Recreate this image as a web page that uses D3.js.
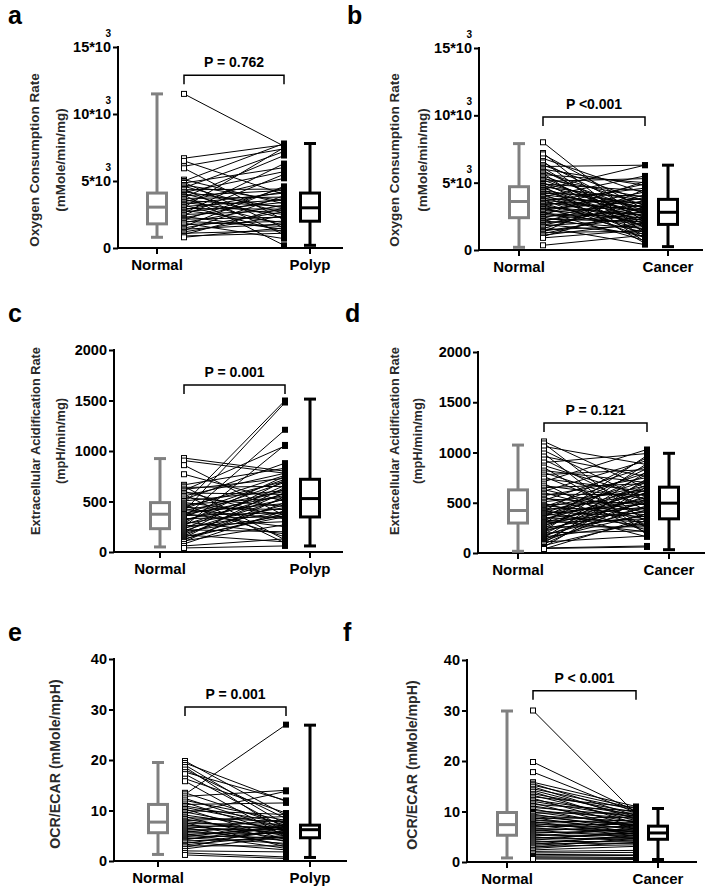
<!DOCTYPE html>
<html><head><meta charset="utf-8">
<script src="https://cdn.jsdelivr.net/npm/d3@7"></script>
<style>
body{margin:0;background:#fff}
svg{display:block}
text{font-family:Arial,"Liberation Sans",Helvetica,sans-serif}
</style>
</head><body>
<svg id="chart" width="711" height="887"></svg>
<script>
// ---------------- DATA ----------------
const panelLetters = ["a", "b", "c", "d", "e", "f"];
const polypCategories = ["Normal", "Polyp"];
const cancerCategories = ["Normal", "Cancer"];
const pLabels = ["P = 0.762", "P <0.001", "P = 0.001", "P = 0.121", "P = 0.001", "P < 0.001"];
const ocrTitle = ["Oxygen Consumption Rate", "(mMole/min/mg)"];
const ecarTitle = ["Extracellular Acidification Rate", "(mpH/min/mg)"];
const ratioTitle = ["OCR/ECAR (mMole/mpH)"];
const ocrTicks = [0, 5000, 10000, 15000];
const ecarTicks = [0, 500, 1000, 1500, 2000];
const ratioTicks = [0, 10, 20, 30, 40];

// box stats: [min, q1, median, q3, max]
const ocrPolypBoxNormal = [800, 1800, 3050, 4100, 11500];
const ocrPolypBoxPolyp = [200, 2000, 3000, 4100, 7800];
const ocrCancerBoxNormal = [200, 2400, 3600, 4700, 7900];
const ocrCancerBoxCancer = [250, 1900, 2800, 3760, 6300];
const ecarPolypBoxNormal = [50, 231, 374, 489, 925];
const ecarPolypBoxPolyp = [60, 347, 529, 720, 1514];
const ecarCancerBoxNormal = [17, 298, 423, 628, 1074];
const ecarCancerBoxCancer = [33, 340, 496, 655, 992];
const ratioPolypBoxNormal = [1.3, 5.6, 7.7, 11.2, 19.5];
const ratioPolypBoxPolyp = [0.7, 4.6, 6.2, 7.1, 26.9];
const ratioCancerBoxNormal = [0.8, 5.3, 7.4, 9.8, 29.9];
const ratioCancerBoxCancer = [0.5, 4.5, 5.75, 7.1, 10.6];

// paired values (same index = same patient)
const ocrPolypNormal = [11500,6700,6500,6100,5950,5100,5000,4900,4850,4700,4600,4500,4400,4350,4200,4150,4050,3950,3900,3800,3700,3650,3550,3450,3400,3300,3200,3100,3050,2950,2850,2800,2700,2600,2500,2450,2350,2250,2150,2100,2000,1900,1850,1750,1600,1500,1400,1300,1200,1100,1000,900,800];
const ocrPolypPolyp  = [7600,7700,4000,7400,2100,3300,7800,1500,6000,3500,2600,7200,1000,4400,3000,5700,2200,200,4300,6900,3800,1700,3100,5200,2500,4100,1200,3600,7500,2900,4200,1900,3400,6300,2800,5500,1400,3700,2300,4500,1600,3200,700,2000,4600,2700,1800,3900,2400,1300,3000,1100,1500];

const ocrCancerNormal = [8000,7200,7100,6800,6600,6500,6300,6200,6100,6000,5900,5800,5700,5600,5500,5400,5300,5200,5100,5000,4950,4900,4800,4750,4700,4600,4500,4450,4400,4300,4200,4150,4100,4000,3950,3900,3800,3750,3700,3650,3600,3500,3450,3400,3300,3250,3200,3100,3050,3000,2900,2850,2800,2700,2650,2600,2500,2450,2400,2300,2200,2150,2100,2000,1900,1850,1800,1700,1600,1500,1400,1350,1300,1200,1100,1000,900,350];
const ocrCancerCancer = [2000,1200,3000,4200,800,2600,3600,6300,1600,4800,2200,3300,600,5000,2900,1900,3900,2400,5300,1400,3100,4400,2700,500,3700,2100,6300,1700,3400,2800,4000,1100,3200,2500,5500,1800,3500,900,2900,4600,2300,3000,1500,3800,2000,4900,2600,1300,3600,2200,4300,700,3300,2400,1900,5100,2800,1000,3900,2100,3100,1600,4100,2700,1200,3400,2300,400,3700,1800,2500,4500,1400,2900,2000,3200,1500,1100];

const ecarPolypNormal = [930,905,860,770,665,650,640,620,610,600,585,570,555,540,520,505,490,480,470,460,450,440,430,420,410,400,390,380,375,370,360,350,340,330,320,310,300,290,280,270,260,250,240,230,220,210,200,190,180,170,160,150,140,130,120,110,100,80,60,40];
const ecarPolypPolyp  = [800,780,360,500,830,120,650,730,1050,340,570,90,780,450,880,610,370,1500,540,150,700,420,760,330,600,1480,480,250,720,560,390,690,1210,350,520,620,180,750,440,580,300,1060,400,660,200,530,360,710,470,100,590,350,640,380,490,270,550,410,130,60];

const ecarCancerNormal = [1110,1090,1060,1020,990,960,930,900,870,850,820,800,780,760,740,710,690,670,650,630,615,600,585,570,555,540,525,510,495,480,470,460,450,440,430,425,420,410,400,395,390,380,370,360,350,345,340,330,320,310,305,300,290,280,270,260,250,240,230,220,210,200,190,180,170,160,150,140,130,120,110,100,90,75,60,50,45,40];
const ecarCancerCancer = [640,300,880,520,180,760,420,990,560,250,700,470,830,350,610,1030,200,540,690,400,920,330,580,750,280,480,860,620,230,510,380,800,670,440,160,590,950,360,720,490,270,650,530,840,310,460,600,210,780,410,550,340,970,500,630,260,710,450,370,890,570,220,680,430,520,290,810,390,610,470,170,740,540,320,660,70,60,350];

const ratioPolypNormal = [19.8,19.4,19.0,18.6,18.1,17.6,17.2,16.3,15.8,13.5,13.2,12.8,12.4,12.0,11.6,11.2,10.9,10.6,10.3,10.0,9.7,9.4,9.1,8.8,8.6,8.3,8.0,7.8,7.6,7.4,7.2,7.0,6.8,6.6,6.4,6.2,6.0,5.8,5.6,5.4,5.2,5.0,4.8,4.6,4.4,4.2,4.0,3.8,3.5,3.2,3.0,2.7,2.4,2.0,1.6,1.2];
const ratioPolypPolyp  = [9.0,11.8,7.2,5.5,8.4,12.0,6.5,9.5,4.8,7.0,27.0,14.0,6.0,8.0,5.2,11.5,7.5,6.8,4.2,9.2,5.9,13.8,6.3,3.8,7.8,5.0,8.8,6.1,2.8,7.3,4.5,6.6,5.6,3.2,8.2,6.2,4.0,7.1,5.4,2.5,6.4,4.6,7.0,3.5,5.8,6.9,4.4,2.2,6.0,5.1,3.0,6.7,4.9,1.8,0.8,0.5];

const ratioCancerNormal = [30.0,19.8,17.8,15.8,15.5,15.2,14.9,14.5,14.2,13.9,13.5,13.2,12.9,12.6,12.3,12.0,11.7,11.4,11.1,10.8,10.5,10.2,9.9,9.7,9.5,9.2,9.0,8.8,8.6,8.4,8.2,8.0,7.8,7.6,7.5,7.3,7.1,6.9,6.7,6.5,6.3,6.1,5.9,5.7,5.5,5.3,5.1,4.9,4.7,4.5,4.3,4.1,3.9,3.7,3.5,3.3,3.1,2.9,2.7,2.4,2.1,1.8,1.5,1.2,1.0,0.8,0.6];
const ratioCancerCancer = [9.5,10.0,9.8,11.0,9.2,10.6,8.5,10.3,9.0,7.6,9.8,8.2,10.8,7.0,9.4,8.8,6.5,10.1,7.9,9.1,6.8,8.6,7.3,9.7,6.2,8.0,7.1,5.8,8.9,6.6,7.7,5.5,8.3,6.0,7.4,5.2,6.9,7.8,5.9,6.3,4.9,7.2,5.6,6.4,4.6,5.3,6.7,4.3,5.7,4.8,6.1,4.0,5.0,3.7,5.4,4.4,3.4,4.7,3.9,3.1,2.3,1.9,1.4,1.3,0.9,0.7,0.5];

// ---------------- LAYOUT ----------------
const panels = [
  {letter: panelLetters[0], lx: 8,   ly: 24,  ax: 118, yTop: 47,  yBot: 248, xEnd: 343, nX: 157, oX: 310, l0: 184, l1: 284,
   domain: [0, 15000], ticks: ocrTicks, sup: true, title: ocrTitle, tX: [39, 65], tY: 160, tSize: 13.5,
   cats: polypCategories, normal: ocrPolypNormal, other: ocrPolypPolyp, boxN: ocrPolypBoxNormal, boxO: ocrPolypBoxPolyp,
   p: pLabels[0], brV: 12900},
  {letter: panelLetters[1], lx: 347, ly: 24, ax: 479, yTop: 48, yBot: 250, xEnd: 703, nX: 519, oX: 668, l0: 543, l1: 645,
   domain: [0, 15000], ticks: ocrTicks, sup: true, title: ocrTitle, tX: [399, 427], tY: 160, tSize: 13.5,
   cats: cancerCategories, normal: ocrCancerNormal, other: ocrCancerCancer, boxN: ocrCancerBoxNormal, boxO: ocrCancerBoxCancer,
   p: pLabels[1], brV: 9870},
  {letter: panelLetters[2], lx: 8, ly: 322, ax: 114, yTop: 350, yBot: 552, xEnd: 343, nX: 160, oX: 310, l0: 184, l1: 285,
   domain: [0, 2000], ticks: ecarTicks, sup: false, title: ecarTitle, tX: [40, 65], tY: 441, tSize: 12.8,
   cats: polypCategories, normal: ecarPolypNormal, other: ecarPolypPolyp, boxN: ecarPolypBoxNormal, boxO: ecarPolypBoxPolyp,
   p: pLabels[2], brV: 1653},
  {letter: panelLetters[3], lx: 345, ly: 322, ax: 478, yTop: 352, yBot: 553, xEnd: 705, nX: 518, oX: 669, l0: 544, l1: 647,
   domain: [0, 2000], ticks: ecarTicks, sup: false, title: ecarTitle, tX: [399, 422], tY: 441, tSize: 12.8,
   cats: cancerCategories, normal: ecarCancerNormal, other: ecarCancerCancer, boxN: ecarCancerBoxNormal, boxO: ecarCancerBoxCancer,
   p: pLabels[3], brV: 1293},
  {letter: panelLetters[4], lx: 8, ly: 641, ax: 114, yTop: 659, yBot: 861, xEnd: 347, nX: 158, oX: 310, l0: 185, l1: 286,
   domain: [0, 40], ticks: ratioTicks, sup: false, title: ratioTitle, tX: [60], tY: 764, tSize: 14.2,
   cats: polypCategories, normal: ratioPolypNormal, other: ratioPolypPolyp, boxN: ratioPolypBoxNormal, boxO: ratioPolypBoxPolyp,
   p: pLabels[4], brV: 30.5},
  {letter: panelLetters[5], lx: 343, ly: 641, ax: 467, yTop: 660, yBot: 862, xEnd: 697, nX: 507, oX: 658, l0: 533, l1: 636,
   domain: [0, 40], ticks: ratioTicks, sup: false, title: ratioTitle, tX: [417], tY: 765, tSize: 14.2,
   cats: cancerCategories, normal: ratioCancerNormal, other: ratioCancerCancer, boxN: ratioCancerBoxNormal, boxO: ratioCancerBoxCancer,
   p: pLabels[5], brV: 33.9}
];

const svg = d3.select("#chart");
const GRAY = "#808080";
const FONT = "Arial, 'Liberation Sans', sans-serif";

function drawBox(g, cx, s, y, color) {
  const bw = 19, cw = 12;
  const bg = g.append("g").attr("stroke", color).attr("stroke-width", 3).attr("fill", "none");
  bg.append("line").attr("x1", cx).attr("x2", cx).attr("y1", y(s[0])).attr("y2", y(s[1]));
  bg.append("line").attr("x1", cx).attr("x2", cx).attr("y1", y(s[3])).attr("y2", y(s[4]));
  bg.append("line").attr("x1", cx - cw / 2).attr("x2", cx + cw / 2).attr("y1", y(s[0])).attr("y2", y(s[0]));
  bg.append("line").attr("x1", cx - cw / 2).attr("x2", cx + cw / 2).attr("y1", y(s[4])).attr("y2", y(s[4]));
  bg.append("rect").attr("x", cx - bw / 2).attr("width", bw)
    .attr("y", y(s[3])).attr("height", y(s[1]) - y(s[3])).attr("fill", "#fff");
  bg.append("line").attr("x1", cx - bw / 2).attr("x2", cx + bw / 2).attr("y1", y(s[2])).attr("y2", y(s[2]));
}

panels.forEach(P => {
  const g = svg.append("g");
  const y = d3.scaleLinear().domain(P.domain).range([P.yBot, P.yTop]);
  const x = d3.scaleLinear().domain([0, 1]).range([P.nX, P.oX]);
  const t0 = (P.l0 - P.nX) / (P.oX - P.nX), t1 = (P.l1 - P.nX) / (P.oX - P.nX);

  // panel letter
  g.append("text").attr("x", P.lx).attr("y", P.ly).attr("font-size", 25).attr("font-weight", "bold").text(P.letter);

  // y axis
  const fmt = d => P.sup ? (d === 0 ? "0" : (d / 1000) + "*10") : String(d);
  const yAxis = d3.axisLeft(y).tickValues(P.ticks).tickFormat(fmt).tickSize(5).tickPadding(2).tickSizeOuter(0);
  const ya = g.append("g").attr("transform", `translate(${P.ax},0)`).call(yAxis);
  ya.select(".domain").attr("stroke-width", 2).attr("d", `M0,${P.yTop - 1}V${P.yBot + 1}`);
  ya.selectAll(".tick line").attr("stroke-width", 2);
  ya.selectAll(".tick text").attr("font-size", 14.5).attr("font-weight", "bold").attr("font-family", FONT).attr("fill", "#000");
  if (P.sup) {
    ya.selectAll(".tick").filter(d => d > 0).append("text")
      .attr("x", -7).attr("y", -10.5).attr("text-anchor", "end")
      .attr("font-size", 10).attr("font-weight", "bold").attr("fill", "#000")
      .attr("font-family", FONT).text("3");
  }

  // x axis
  g.append("line").attr("x1", P.ax - 1).attr("x2", P.xEnd).attr("y1", P.yBot).attr("y2", P.yBot)
    .attr("stroke", "#000").attr("stroke-width", 2);
  [0, 1].forEach((v, i) => {
    g.append("line").attr("x1", x(v)).attr("x2", x(v)).attr("y1", P.yBot).attr("y2", P.yBot + 6)
      .attr("stroke", "#000").attr("stroke-width", 2);
    g.append("text").attr("x", x(v)).attr("y", P.yBot + 22).attr("text-anchor", "middle")
      .attr("font-size", 15).attr("font-weight", "bold").text(P.cats[i]);
  });

  // y title
  P.title.forEach((line, i) => {
    g.append("text").attr("transform", `translate(${P.tX[i]},${P.tY}) rotate(-90)`)
      .attr("text-anchor", "middle").attr("font-size", P.tSize).attr("font-weight", "bold").attr("fill", "#2a2a2a")
      .text(line);
  });

  // boxes
  drawBox(g, x(0), P.boxN, y, GRAY);
  drawBox(g, x(1), P.boxO, y, "#000");

  // paired lines
  const pairs = P.normal.map((v, i) => [v, P.other[i]]);
  g.append("g").selectAll("line").data(pairs).join("line")
    .attr("x1", x(t0)).attr("x2", x(t1))
    .attr("y1", d => y(d[0])).attr("y2", d => y(d[1]))
    .attr("stroke", "#000").attr("stroke-width", 1);
  g.append("g").selectAll("rect").data(pairs).join("rect")
    .attr("x", x(t0) - 2.5).attr("y", d => y(d[0]) - 2.5).attr("width", 5).attr("height", 5)
    .attr("fill", "#fff").attr("stroke", "#000").attr("stroke-width", 1);
  g.append("g").selectAll("rect").data(pairs).join("rect")
    .attr("x", x(t1) - 3).attr("y", d => y(d[1]) - 3).attr("width", 6).attr("height", 6)
    .attr("fill", "#000");

  // bracket + p label
  const by = y(P.brV);
  g.append("path").attr("d", `M${x(t0)},${by + 9}V${by}H${x(t1)}V${by + 9}`)
    .attr("fill", "none").attr("stroke", "#000").attr("stroke-width", 1.5);
  g.append("text").attr("x", (x(t0) + x(t1)) / 2).attr("y", by - 8).attr("text-anchor", "middle")
    .attr("font-size", 14).attr("font-weight", "bold").text(P.p);
});
</script>
</body></html>
